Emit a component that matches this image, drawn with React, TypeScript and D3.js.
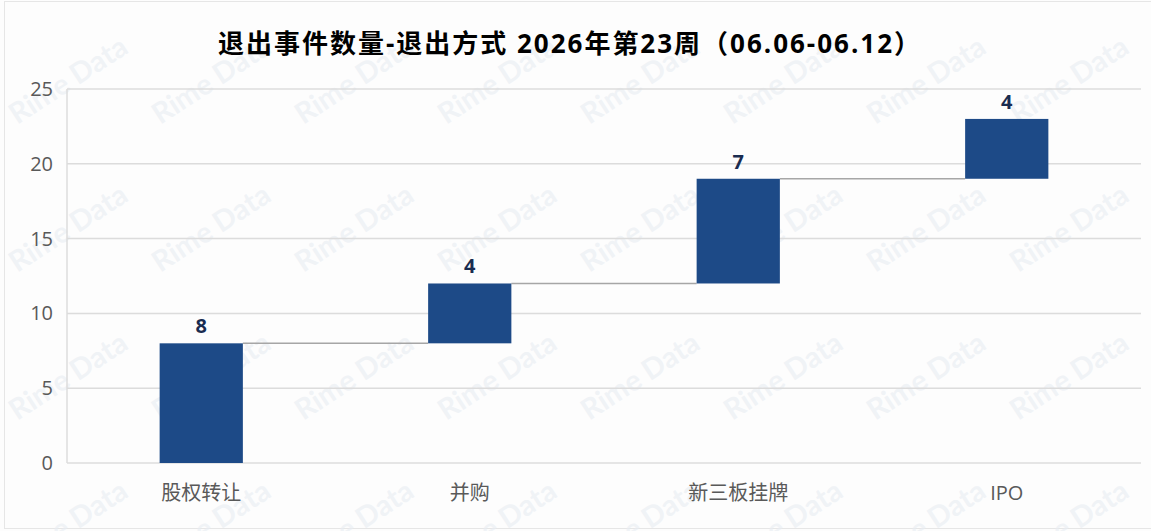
import React from "react";
import * as d3 from "d3";

const categories: string[] = ["股权转让", "并购", "新三板挂牌", "IPO"];
const values: number[] = [8, 4, 7, 4];
const yTicks: number[] = [0, 5, 10, 15, 20, 25];
const title = "退出事件数量-退出方式 2026年第23周（06.06-06.12）";
const watermarkText = "Rime Data";

const W = 1151;
const H = 531;
const margin = { left: 67, right: 10, top: 89, bottom: 68 };

export default function App() {
  const x = d3
    .scaleBand<string>()
    .domain(categories)
    .range([margin.left, W - margin.right])
    .padding(0);
  const y = d3.scaleLinear().domain([0, 25]).range([H - margin.bottom, margin.top]);

  const ends = Array.from(d3.cumsum(values));
  const starts = ends.map((e, i) => e - values[i]);
  const barW = x.bandwidth() * 0.31;

  const wmCols = d3.range(0, 9);
  const wmRows = d3.range(0, 4);

  const font = "'Open Sans', 'Noto Sans CJK SC', sans-serif";

  return (
    <svg
      width={W}
      height={H}
      style={{ position: "absolute", left: 0, top: 0, display: "block", background: "#fdfdfd" }}
    >
      <rect x={4.5} y={1.5} width={W} height={H - 4} fill="#fdfdfd" stroke="#e6e6e6" strokeWidth={1} />

      {/* watermark (behind the chart) */}
      <g pointerEvents="none">
        {wmRows.map((r) =>
          wmCols.map((c) => (
            <text
              key={`w${r}-${c}`}
              transform={`translate(${68 + c * 143},${80 + r * 148}) rotate(-33)`}
              textAnchor="middle"
              dy="0.35em"
              fontFamily="Lato, 'Open Sans', sans-serif"
              fontWeight="bold"
              fontSize={29}
              fill="#e9edf3"
              fillOpacity={0.65}
            >
              {watermarkText}
            </text>
          ))
        )}
      </g>

      {/* gridlines */}
      {yTicks.map((t) => (
        <line
          key={"g" + t}
          x1={margin.left}
          x2={W - margin.right}
          y1={y(t)}
          y2={y(t)}
          stroke="#dcdcdc"
          strokeWidth={1.5}
        />
      ))}
      <line x1={margin.left} x2={margin.left} y1={y(25)} y2={y(0)} stroke="#dcdcdc" strokeWidth={1.5} />

      {/* y tick labels */}
      {yTicks.map((t) => (
        <text
          key={"t" + t}
          x={margin.left - 14}
          y={y(t)}
          dy="0.35em"
          textAnchor="end"
          fontFamily={font}
          fontSize={20}
          fill="#595959"
        >
          {t}
        </text>
      ))}

      {/* connectors */}
      {categories.slice(0, -1).map((c, i) => {
        const cx = (x(c) as number) + x.bandwidth() / 2;
        const nx = (x(categories[i + 1]) as number) + x.bandwidth() / 2;
        return (
          <line
            key={"c" + c}
            x1={cx + barW / 2}
            x2={nx - barW / 2}
            y1={y(ends[i])}
            y2={y(ends[i])}
            stroke="#a6a6a6"
            strokeWidth={1.5}
          />
        );
      })}

      {/* bars */}
      {categories.map((c, i) => {
        const cx = (x(c) as number) + x.bandwidth() / 2;
        return (
          <g key={"b" + c}>
            <rect
              x={cx - barW / 2}
              y={y(ends[i])}
              width={barW}
              height={y(starts[i]) - y(ends[i])}
              fill="#1d4a87"
            />
            <text
              x={cx}
              y={y(ends[i]) - 10}
              textAnchor="middle"
              fontFamily={font}
              fontWeight="bold"
              fontSize={20}
              fill="#1a2c50"
            >
              {values[i]}
            </text>
            <text
              x={cx}
              y={y(0) + 30}
              dy="0.35em"
              textAnchor="middle"
              fontFamily={font}
              fontSize={20}
              fill="#595959"
            >
              {c}
            </text>
          </g>
        );
      })}

      {/* title */}
      <text
        x={569}
        y={53}
        textAnchor="middle"
        fontFamily="'Open Sans', 'Noto Sans CJK SC', sans-serif"
        fontWeight="bold"
        fontSize={26}
        fill="#000"
        textLength={702}
        lengthAdjust="spacing"
      >
        {title}
      </text>
    </svg>
  );
}
